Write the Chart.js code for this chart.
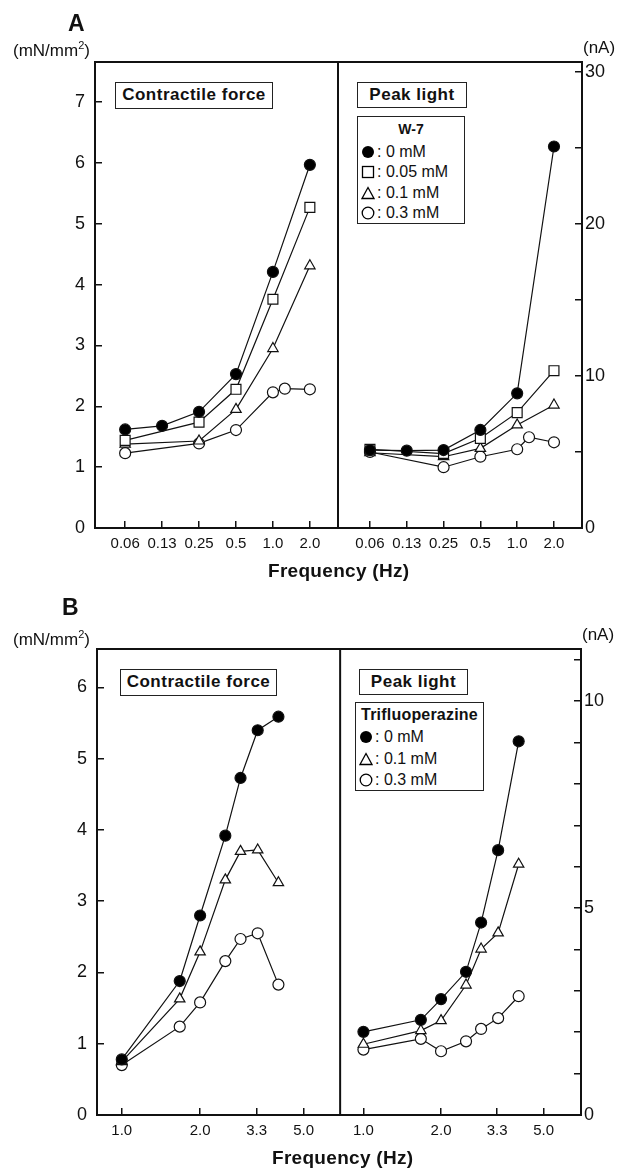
<!DOCTYPE html>
<html>
<head>
<meta charset="utf-8">
<script src="https://cdn.jsdelivr.net/npm/chart.js@4.4.1/dist/chart.umd.min.js"></script>
<style>
  body { margin: 0; background: #fff; }
  #page { position: relative; width: 620px; height: 1169px; font-family: "Liberation Sans", Arial, sans-serif; color: #111; }
  canvas { position: absolute; }
  .t { position: absolute; white-space: nowrap; line-height: 1; }
  .panel { font-weight: bold; font-size: 23px; }
  .unit { font-size: 17px; }
  .unit sup { font-size: 11px; }
  .box { position: absolute; border: 1.5px solid #222; box-sizing: border-box; font-weight: bold; font-size: 17px; letter-spacing: 0.5px; text-align: center; background: #fff; }
  .legend { position: absolute; border: 1.5px solid #222; box-sizing: border-box; background: #fff; font-size: 16px; }
  .legend .ttl { font-weight: bold; font-size: 14px; text-align: center; }
  .legend .row { position: absolute; left: 3px; white-space: nowrap; }
  .legend svg { vertical-align: -2px; margin-right: 2px; }
  .xt { font-weight: bold; font-size: 19px; letter-spacing: 0.3px; }
</style>
</head>
<body>
<div id="page">
  <canvas id="aLeft" width="338" height="590" style="left:0;top:0"></canvas>
  <canvas id="aRight" width="283" height="590" style="left:337px;top:0"></canvas>
  <canvas id="bLeft" width="341" height="579" style="left:0;top:590px"></canvas>
  <canvas id="bRight" width="281" height="579" style="left:339px;top:590px"></canvas>

  <div class="t panel" style="left:68px;top:12px">A</div>
  <div class="t unit" style="left:13px;top:40px">(mN/mm<sup>2</sup>)</div>
  <div class="t unit" style="left:583px;top:39px">(nA)</div>
  <div class="box" style="left:115px;top:82px;width:158px;height:27px;line-height:24px">Contractile force</div>
  <div class="box" style="left:357px;top:82px;width:110px;height:26px;line-height:23px">Peak light</div>
  <div class="legend" style="left:357px;top:116px;width:108px;height:108px">
    <div class="ttl" style="margin-top:4px">W-7</div>
    <div class="row" style="top:26px"><svg width="14" height="14"><circle cx="7" cy="7" r="6" fill="#000"/></svg>: 0 mM</div>
    <div class="row" style="top:46px"><svg width="14" height="14"><rect x="1.5" y="1.5" width="11" height="11" fill="#fff" stroke="#000" stroke-width="1.3"/></svg>: 0.05 mM</div>
    <div class="row" style="top:67px"><svg width="14" height="14"><polygon points="7,1.5 13,12.5 1,12.5" fill="#fff" stroke="#000" stroke-width="1.3"/></svg>: 0.1 mM</div>
    <div class="row" style="top:87px"><svg width="14" height="14"><circle cx="7" cy="7" r="5.8" fill="#fff" stroke="#000" stroke-width="1.3"/></svg>: 0.3 mM</div>
  </div>
  <div class="t xt" style="left:268px;top:561px">Frequency (Hz)</div>

  <div class="t panel" style="left:62px;top:596px">B</div>
  <div class="t unit" style="left:13px;top:629px">(mN/mm<sup>2</sup>)</div>
  <div class="t unit" style="left:582px;top:626px">(nA)</div>
  <div class="box" style="left:120px;top:669px;width:157px;height:27px;line-height:24px">Contractile force</div>
  <div class="box" style="left:359px;top:669px;width:109px;height:26px;line-height:23px">Peak light</div>
  <div class="legend" style="left:355px;top:702px;width:129px;height:89px">
    <div class="ttl" style="margin-top:3px;font-size:16px;letter-spacing:0.2px">Trifluoperazine</div>
    <div class="row" style="top:25px"><svg width="14" height="14"><circle cx="7" cy="7" r="6" fill="#000"/></svg>: 0 mM</div>
    <div class="row" style="top:47px"><svg width="14" height="14"><polygon points="7,1.5 13,12.5 1,12.5" fill="#fff" stroke="#000" stroke-width="1.3"/></svg>: 0.1 mM</div>
    <div class="row" style="top:68px"><svg width="14" height="14"><circle cx="7" cy="7" r="5.8" fill="#fff" stroke="#000" stroke-width="1.3"/></svg>: 0.3 mM</div>
  </div>
  <div class="t xt" style="left:272px;top:1148px">Frequency (Hz)</div>
</div>

<script>
// ---- panel A: W-7 ----
const freqA = [0.0625, 0.125, 0.25, 0.5, 1, 2];
const freqLabelsA = ["0.06", "0.13", "0.25", "0.5", "1.0", "2.0"];
const freqA_skip = [0.0625, 0.25, 0.5, 1, 2];        // no 0.13 Hz point
const freqA_extra = [0.0625, 0.25, 0.5, 1, 1.25, 2]; // extra point near 1.3 Hz

const forceA_0 = [1.62, 1.68, 1.91, 2.53, 4.21, 5.97];
const forceA_005 = [1.44, 1.74, 2.28, 3.76, 5.27];
const forceA_01 = [1.38, 1.43, 1.95, 2.95, 4.31];
const forceA_03 = [1.23, 1.39, 1.61, 2.23, 2.29, 2.28];

const lightA_0 = [5.13, 5.09, 5.13, 6.45, 8.86, 25.1];
const lightA_005 = [5.18, 4.9, 5.9, 7.59, 10.35];
const lightA_01 = [4.95, 4.69, 5.24, 6.78, 8.09];
const lightA_03 = [5.0, 4.0, 4.69, 5.18, 5.97, 5.64];

// ---- panel B: trifluoperazine ----
const freqB = [1, 1.67, 2, 2.5, 2.86, 3.33, 4];
const tickB = [1, 2, 3.3, 5];
const tickLabelsB = ["1.0", "2.0", "3.3", "5.0"];

const forceB_0 = [0.78, 1.88, 2.80, 3.92, 4.73, 5.40, 5.59];
const forceB_01 = [0.75, 1.63, 2.29, 3.30, 3.70, 3.72, 3.26];
const forceB_03 = [0.70, 1.24, 1.58, 2.16, 2.47, 2.55, 1.83];

const lightB_0 = [2.01, 2.30, 2.80, 3.46, 4.65, 6.40, 9.03];
const lightB_01 = [1.71, 2.04, 2.28, 3.14, 4.01, 4.40, 6.06];
const lightB_03 = [1.58, 1.84, 1.54, 1.78, 2.08, 2.34, 2.87];

const FONT = '"Liberation Sans", Arial, sans-serif';

const markers = {
  filled: { pointStyle: "circle", pointRadius: 5.5, pointBackgroundColor: "#000" },
  square: { pointStyle: "rect", pointRadius: 7, pointBackgroundColor: "#fff" },
  tri: { pointStyle: "triangle", pointRadius: 6, pointBackgroundColor: "#fff" },
  open: { pointStyle: "circle", pointRadius: 5.5, pointBackgroundColor: "#fff" },
};

function series(xs, ys, kind) {
  return Object.assign({
    data: xs.map((x, i) => ({ x: x, y: ys[i] })),
    borderColor: "#111",
    borderWidth: 1.2,
    pointBorderColor: "#111",
    pointBorderWidth: 1.2,
    tension: 0,
  }, markers[kind]);
}

// box round the plot area; the divider between the halves is drawn once, by the right chart
const framePlugin = {
  id: "frame",
  beforeDatasetsDraw(chart, args, opts) {
    const a = chart.chartArea;
    const ctx = chart.ctx;
    ctx.save();
    ctx.strokeStyle = "#111";
    ctx.lineWidth = 2;
    ctx.beginPath();
    if (opts.side === "left") {
      ctx.moveTo(a.right, a.top);
      ctx.lineTo(a.left, a.top);
      ctx.lineTo(a.left, a.bottom);
      ctx.lineTo(a.right, a.bottom);
    } else {
      ctx.moveTo(a.left + 1, a.top);
      ctx.lineTo(a.left + 1, a.bottom);
      ctx.moveTo(a.left, a.top);
      ctx.lineTo(a.right, a.top);
      ctx.lineTo(a.right, a.bottom);
      ctx.lineTo(a.left, a.bottom);
    }
    ctx.stroke();
    ctx.restore();
  },
};

function makeChart(id, opts) {
  const yScale = {
    type: "linear",
    position: opts.yPos,
    min: 0,
    max: opts.yMax,
    border: { display: false },
    grid: { drawOnChartArea: false, drawTicks: true, tickLength: -7, color: "#111", lineWidth: 1.5 },
    ticks: {
      stepSize: opts.yStep,
      includeBounds: false,
      padding: opts.yPos === "left" ? 17 : 10,
      color: "#111",
      font: { family: FONT, size: 18 },
      callback: opts.yLabel,
    },
    afterFit(scale) { scale.width = opts.yWidth; },
  };
  const xScale = {
    type: "logarithmic",
    position: "bottom",
    min: opts.xMin,
    max: opts.xMax,
    border: { display: false },
    grid: { drawOnChartArea: false, drawTicks: true, tickLength: -7, color: "#111", lineWidth: 1.5 },
    ticks: {
      padding: 14,
      autoSkip: false,
      maxRotation: 0,
      color: "#111",
      font: { family: FONT, size: 15 },
      callback: (v, i) => opts.xLabels[i],
    },
    afterBuildTicks(scale) { scale.ticks = opts.xTicks.map((v) => ({ value: v })); },
    afterFit(scale) { scale.height = opts.xHeight; },
  };
  return new Chart(document.getElementById(id), {
    type: "line",
    data: { datasets: opts.datasets },
    options: {
      responsive: false,
      animation: false,
      layout: { autoPadding: false, padding: { top: opts.top, left: 0, right: 0, bottom: 0 } },
      plugins: { legend: { display: false }, tooltip: { enabled: false }, frame: { side: opts.yPos } },
      scales: { x: xScale, y: yScale },
    },
    plugins: [framePlugin],
  });
}

makeChart("aLeft", {
  yPos: "left", yMax: 7.66, yStep: 1, yWidth: 95, top: 62, xHeight: 62,
  xMin: 0.0355, xMax: 3.39, xTicks: freqA, xLabels: freqLabelsA,
  yLabel: (v) => v,
  datasets: [
    series(freqA, forceA_0, "filled"),
    series(freqA_skip, forceA_005, "square"),
    series(freqA_skip, forceA_01, "tri"),
    series(freqA_extra, forceA_03, "open"),
  ],
});

makeChart("aRight", {
  yPos: "right", yMax: 30.66, yStep: 5, yWidth: 38, top: 62, xHeight: 62,
  xMin: 0.0336, xMax: 3.39, xTicks: freqA, xLabels: freqLabelsA,
  yLabel: (v) => (v % 10 === 0 ? v : ""),
  datasets: [
    series(freqA, lightA_0, "filled"),
    series(freqA_skip, lightA_005, "square"),
    series(freqA_skip, lightA_01, "tri"),
    series(freqA_extra, lightA_03, "open"),
  ],
});

makeChart("bLeft", {
  yPos: "left", yMax: 6.54, yStep: 1, yWidth: 97, top: 59, xHeight: 54,
  xMin: 0.803, xMax: 6.96, xTicks: tickB, xLabels: tickLabelsB,
  yLabel: (v) => v,
  datasets: [
    series(freqB, forceB_0, "filled"),
    series(freqB, forceB_01, "tri"),
    series(freqB, forceB_03, "open"),
  ],
});

makeChart("bRight", {
  yPos: "right", yMax: 11.26, yStep: 1, yWidth: 39, top: 59, xHeight: 54,
  xMin: 0.805, xMax: 6.98, xTicks: tickB, xLabels: tickLabelsB,
  yLabel: (v) => (v % 5 === 0 ? v : ""),
  datasets: [
    series(freqB, lightB_0, "filled"),
    series(freqB, lightB_01, "tri"),
    series(freqB, lightB_03, "open"),
  ],
});
</script>
</body>
</html>
